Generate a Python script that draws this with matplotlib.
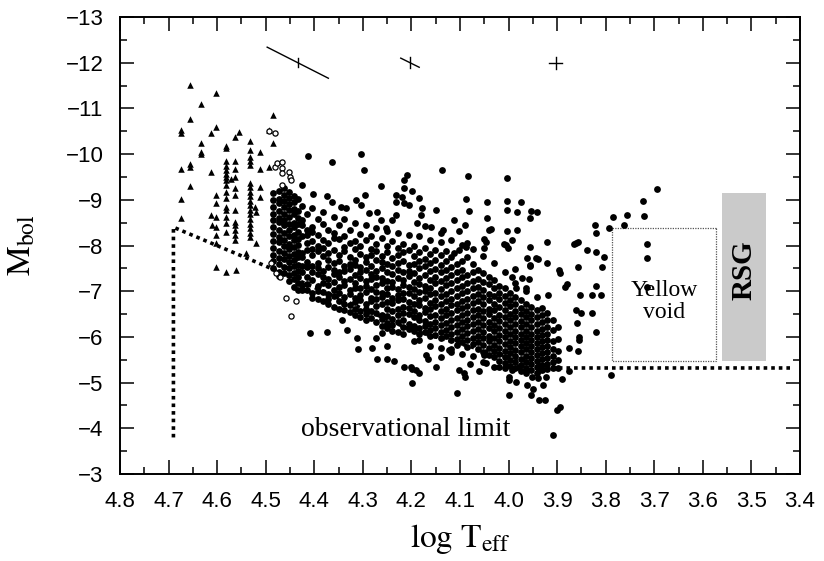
import numpy as np
import matplotlib
matplotlib.use("Agg")
from matplotlib import pyplot as plt
from matplotlib.patches import Rectangle
from matplotlib.ticker import MultipleLocator

plt.rcParams['font.family'] = 'Liberation Sans'
plt.rcParams['mathtext.fontset'] = 'stix'
plt.rcParams['hatch.color'] = '#9a9a9a'
plt.rcParams['hatch.linewidth'] = 1.0

# O stars (filled triangles)
tri = [(4.655, -11.51), (4.603, -11.34), (4.634, -11.10), (4.655, -10.77), (4.603, -10.60),
       (4.675, -10.53), (4.675, -10.46), (4.613, -10.46), (4.554, -10.48), (4.564, -10.37),
       (4.484, -10.86), (4.494, -10.53), (4.484, -10.24), (4.634, -10.24), (4.634, -10.05),
       (4.634, -10.00), (4.582, -10.18), (4.582, -10.13), (4.533, -10.29), (4.533, -10.09),
       (4.512, -10.05), (4.675, -9.67), (4.655, -9.78), (4.655, -9.72), (4.613, -9.61),
       (4.582, -9.85), (4.582, -9.74), (4.582, -9.65), (4.582, -9.56), (4.582, -9.50),
       (4.582, -9.43), (4.564, -9.85), (4.564, -9.67), (4.564, -9.50), (4.572, -9.45),
       (4.533, -9.94), (4.533, -9.85), (4.533, -9.76), (4.512, -9.67), (4.494, -9.72),
       (4.655, -9.30), (4.675, -9.02), (4.675, -8.60), (4.603, -9.10), (4.603, -8.93),
       (4.582, -9.32), (4.582, -9.17), (4.582, -9.04), (4.582, -8.84), (4.582, -8.78),
       (4.582, -8.62), (4.582, -8.49), (4.582, -8.29), (4.564, -9.26), (4.564, -9.10),
       (4.564, -8.78), (4.564, -8.51), (4.564, -8.45), (4.564, -8.34), (4.564, -8.23),
       (4.564, -8.12), (4.533, -9.37), (4.533, -9.28), (4.533, -9.18), (4.533, -9.08),
       (4.533, -8.98), (4.533, -8.88), (4.533, -8.78), (4.533, -8.68), (4.533, -8.58),
       (4.533, -8.48), (4.533, -8.38), (4.533, -8.28), (4.533, -8.18), (4.523, -8.84),
       (4.519, -8.73), (4.512, -9.28), (4.512, -9.06), (4.613, -8.67), (4.603, -8.62),
       (4.611, -8.45), (4.603, -8.40), (4.603, -8.23), (4.603, -8.05), (4.521, -8.05),
       (4.603, -7.53), (4.582, -7.42), (4.562, -7.46), (4.541, -7.84)]

# open circles
ring = [(4.494, -10.50), (4.481, -10.47), (4.481, -9.72), (4.476, -9.80), (4.467, -9.82),
        (4.467, -9.70), (4.467, -9.59), (4.453, -9.61), (4.450, -9.50), (4.448, -9.43),
        (4.467, -9.32), (4.459, -6.85), (4.438, -6.79), (4.448, -6.46), (4.490, -7.62),
        (4.478, -7.40), (4.470, -7.30)]

# dense B-star column near log T = 4.45
column_cols = [
    (4.484, [-9.15, -9.0, -8.85, -8.7, -8.55, -8.4, -8.25, -8.1, -7.95, -7.8, -7.65, -7.5]),
    (4.473, [-9.2, -9.02, -8.93, -8.76, -8.6, -8.52, -8.33, -8.18, -8.07, -7.88, -7.72, -7.6, -7.43, -7.34]),
    (4.463, [-9.25, -9.1, -8.98, -8.84, -8.7, -8.55, -8.44, -8.28, -8.12, -7.99, -7.83, -7.7, -7.52, -7.4]),
    (4.452, [-9.18, -9.05, -8.9, -8.77, -8.62, -8.48, -8.35, -8.2, -8.04, -7.93, -7.77, -7.63, -7.5, -7.35, -7.22]),
    (4.442, [-9.08, -8.96, -8.8, -8.69, -8.5, -8.41, -8.24, -8.12, -7.97, -7.82, -7.68, -7.56, -7.4, -7.27, -7.1]),
    (4.434, [-9.02, -8.75, -8.6, -8.46, -8.3, -8.15, -8.02, -7.86, -7.75, -7.58, -7.45, -7.31, -7.18, -7.02]),
]

# main band, read column by column
band_cols = [
    (4.426, [-8.86, -8.56, -8.44, -8.20, -7.84, -7.74, -7.55, -7.41, -7.14, -7.03]),
    (4.415, [-8.70, -8.34, -8.24, -8.05, -7.91, -7.64, -7.53, -7.32, -7.16, -7.03]),
    (4.404, [-8.82, -8.41, -8.30, -8.09, -7.93, -7.80, -7.55, -7.43, -7.25, -6.95, -6.86]),
    (4.393, [-8.58, -8.22, -7.99, -7.87, -7.62, -7.51, -7.37, -7.12, -7.00, -6.82]),
    (4.382, [-8.74, -8.47, -8.13, -7.95, -7.77, -7.45, -7.31, -7.19, -6.98, -6.78]),
    (4.371, [-8.35, -8.05, -7.83, -7.69, -7.54, -7.26, -7.14, -6.93, -6.84, -6.71]),
    (4.360, [-8.62, -8.28, -8.16, -7.90, -7.62, -7.47, -7.38, -7.20, -7.02, -6.90, -6.66]),
    (4.349, [-8.44, -8.14, -7.79, -7.66, -7.41, -7.30, -7.09, -6.96, -6.78, -6.62]),
    (4.338, [-8.57, -8.20, -7.97, -7.87, -7.56, -7.44, -7.22, -7.13, -6.87, -6.73, -6.58]),
    (4.327, [-8.33, -8.06, -7.75, -7.60, -7.49, -7.27, -7.03, -6.94, -6.69, -6.55]),
    (4.316, [-8.49, -8.10, -7.92, -7.69, -7.58, -7.36, -7.18, -7.07, -6.85, -6.76, -6.61, -6.47]),
    (4.305, [-8.26, -7.98, -7.82, -7.54, -7.41, -7.29, -7.06, -6.91, -6.80, -6.57, -6.44]),
    (4.294, [-8.45, -8.11, -7.74, -7.63, -7.46, -7.22, -7.11, -6.98, -6.73, -6.62, -6.50, -6.36]),
    (4.283, [-8.21, -7.93, -7.80, -7.55, -7.37, -7.26, -7.04, -6.86, -6.78, -6.57, -6.41]),
    (4.272, [-8.39, -8.04, -7.87, -7.69, -7.44, -7.32, -7.13, -6.99, -6.82, -6.67, -6.52, -6.33]),
    (4.261, [-8.17, -7.78, -7.64, -7.50, -7.28, -7.17, -6.95, -6.88, -6.71, -6.49, -6.39, -6.24]),
    (4.250, [-8.31, -8.00, -7.86, -7.59, -7.42, -7.23, -7.08, -6.93, -6.76, -6.62, -6.45, -6.30, -6.19]),
    (4.239, [-8.10, -7.72, -7.55, -7.38, -7.20, -7.10, -6.86, -6.74, -6.56, -6.40, -6.27, -6.14]),
    (4.228, [-8.27, -7.95, -7.80, -7.61, -7.46, -7.29, -7.04, -6.91, -6.80, -6.60, -6.47, -6.33, -6.11]),
    (4.217, [-8.04, -7.85, -7.66, -7.41, -7.25, -7.14, -6.97, -6.83, -6.66, -6.52, -6.36, -6.21, -6.07]),
    (4.206, [-8.22, -7.90, -7.57, -7.45, -7.33, -7.09, -6.95, -6.76, -6.64, -6.50, -6.29, -6.18]),
    (4.195, [-8.00, -7.77, -7.60, -7.39, -7.21, -7.04, -6.90, -6.71, -6.57, -6.43, -6.24, -6.12, -5.90]),
    (4.184, [-8.20, -7.86, -7.66, -7.50, -7.28, -7.15, -6.98, -6.81, -6.69, -6.48, -6.37, -6.19, -6.06, -5.94]),
    (4.173, [-7.95, -7.71, -7.56, -7.35, -7.12, -7.00, -6.85, -6.63, -6.54, -6.35, -6.23, -6.10]),
    (4.162, [-8.13, -7.82, -7.62, -7.44, -7.24, -7.08, -6.94, -6.75, -6.60, -6.46, -6.29, -6.15, -6.01, -5.80]),
    (4.151, [-7.91, -7.69, -7.48, -7.32, -7.17, -6.97, -6.80, -6.67, -6.49, -6.33, -6.20, -6.04]),
    (4.140, [-8.07, -7.79, -7.57, -7.41, -7.22, -7.04, -6.89, -6.72, -6.57, -6.42, -6.26, -6.10, -5.97, -5.75]),
    (4.129, [-7.87, -7.65, -7.46, -7.29, -7.13, -6.93, -6.78, -6.61, -6.47, -6.30, -6.16, -6.01]),
    (4.118, [-8.12, -7.74, -7.53, -7.36, -7.18, -7.01, -6.84, -6.70, -6.53, -6.37, -6.22, -6.07, -5.93, -5.68]),
    (4.107, [-7.60, -7.42, -7.24, -7.07, -6.89, -6.73, -6.58, -6.42, -6.27, -6.11, -5.96, -5.82]),
    (4.096, [-8.02, -7.67, -7.47, -7.30, -7.11, -6.95, -6.79, -6.64, -6.48, -6.33, -6.18, -6.02, -5.88, -5.62]),
    (4.085, [-7.75, -7.36, -7.17, -7.00, -6.84, -6.68, -6.52, -6.38, -6.23, -6.08, -5.93, -5.78]),
    (4.074, [-7.92, -7.60, -7.41, -7.22, -7.06, -6.90, -6.74, -6.58, -6.43, -6.28, -6.13, -5.98, -5.84, -5.58]),
    (4.063, [-7.46, -7.27, -7.10, -6.94, -6.78, -6.62, -6.47, -6.32, -6.17, -6.03, -5.88, -5.74]),
    (4.052, [-7.78, -7.39, -7.21, -7.03, -6.87, -6.71, -6.56, -6.41, -6.26, -6.11, -5.97, -5.82, -5.67, -5.45]),
    (4.041, [-7.31, -7.15, -6.94, -6.80, -6.62, -6.50, -6.33, -6.20, -6.03, -5.90, -5.76, -5.61]),
    (4.030, [-7.62, -7.25, -7.06, -6.90, -6.72, -6.58, -6.41, -6.27, -6.12, -5.97, -5.83, -5.69, -5.55, -5.35]),
    (4.019, [-7.12, -6.97, -6.82, -6.65, -6.49, -6.35, -6.19, -6.05, -5.90, -5.76, -5.62, -5.48]),
    (4.008, [-7.42, -7.08, -6.90, -6.74, -6.58, -6.44, -6.28, -6.14, -5.99, -5.85, -5.70, -5.56, -5.43, -5.33]),
    (3.997, [-6.96, -6.80, -6.67, -6.50, -6.36, -6.21, -6.07, -5.92, -5.78, -5.64, -5.50, -5.37]),
    (3.986, [-7.19, -6.87, -6.72, -6.57, -6.43, -6.29, -6.14, -6.00, -5.86, -5.72, -5.58, -5.45, -5.31]),
    (3.975, [-6.80, -6.64, -6.50, -6.35, -6.21, -6.07, -5.93, -5.79, -5.66, -5.52, -5.38, -5.26]),
    (3.964, [-7.00, -6.73, -6.57, -6.43, -6.28, -6.14, -6.00, -5.86, -5.73, -5.59, -5.46, -5.33, -5.22]),
    (3.953, [-6.66, -6.50, -6.36, -6.21, -6.07, -5.94, -5.80, -5.66, -5.53, -5.40, -5.27]),
    (3.942, [-6.88, -6.58, -6.43, -6.28, -6.14, -6.00, -5.86, -5.73, -5.60, -5.47, -5.34, -5.22]),
    (3.931, [-6.63, -6.47, -6.32, -6.18, -6.04, -5.90, -5.77, -5.64, -5.51, -5.38, -5.27]),
    (3.920, [-6.52, -6.36, -6.21, -6.07, -5.93, -5.80, -5.67, -5.54, -5.41, -5.30]),
    (3.909, [-6.38, -6.15, -5.92, -5.74, -5.58, -5.44, -5.31]),
    (3.898, [-6.22, -5.96, -5.70, -5.49, -5.33]),
]

# scattered stars above the band and toward the yellow region
upper = [(4.413, -9.96), (4.364, -9.83), (4.304, -10.0), (4.298, -9.65), (4.263, -9.30),
         (4.209, -9.54), (4.216, -9.43), (4.137, -9.65), (4.083, -9.52), (4.003, -9.48),
         (4.088, -9.02), (4.044, -8.95), (4.003, -8.97), (3.974, -8.95), (4.081, -8.75),
         (4.044, -8.60), (4.003, -8.78), (3.983, -8.73), (3.956, -8.60), (3.954, -8.75),
         (3.941, -8.73), (4.150, -8.78), (4.112, -8.56), (4.102, -8.32), (4.040, -8.34),
         (4.003, -8.32), (3.983, -8.34), (4.050, -8.14), (4.005, -8.01), (3.993, -8.12),
         (3.956, -7.97), (3.921, -8.08), (3.943, -7.73), (3.956, -7.57), (3.921, -7.62),
         (3.896, -7.46), (3.861, -8.05), (3.838, -7.90), (3.820, -7.85), (3.803, -7.75),
         (3.807, -7.53), (3.822, -8.45), (3.820, -8.27), (3.793, -8.38), (3.785, -8.62),
         (3.756, -8.67), (3.762, -8.45), (3.723, -8.97), (3.721, -8.64), (3.694, -9.24),
         (3.716, -8.03), (3.716, -7.73), (3.716, -7.09), (3.857, -7.53), (3.894, -7.40),
         (3.857, -8.08), (3.865, -8.03), (3.939, -7.70), (3.962, -7.73), (3.956, -7.55),
         (3.986, -7.49), (4.426, -9.32), (4.403, -9.13), (4.374, -9.08), (4.364, -8.95),
         (4.345, -8.84), (4.335, -8.82), (4.314, -9.00), (4.304, -8.89), (4.296, -9.10),
         (4.232, -9.10), (4.232, -8.95), (4.288, -8.71), (4.271, -8.73), (4.263, -8.56),
         (4.253, -8.38), (4.216, -9.26), (4.199, -9.19), (4.219, -9.06), (4.216, -8.93),
         (4.205, -8.89), (4.185, -9.04), (4.178, -8.82), (4.180, -8.67), (4.232, -8.67),
         (4.240, -8.56), (4.189, -8.49), (4.172, -8.43), (4.160, -8.40), (4.090, -8.45),
         (4.135, -8.34), (4.139, -8.27), (4.036, -8.36), (4.046, -8.08), (4.009, -8.03),
         (4.001, -7.95), (4.050, -7.95), (4.085, -8.05), (4.088, -7.97), (4.102, -7.90),
         (4.112, -7.84), (3.993, -7.31), (3.972, -7.29), (3.958, -7.27), (3.985, -7.07),
         (3.964, -7.07), (3.883, -7.09), (3.879, -7.16), (3.820, -7.11), (3.918, -6.92),
         (3.853, -6.92), (3.828, -6.92), (3.809, -6.92), (3.861, -6.59), (3.850, -6.52),
         (3.828, -6.52), (3.859, -6.30), (3.820, -6.11), (3.855, -6.00), (3.855, -5.93),
         (3.875, -5.76), (3.857, -5.69)]

# faint stars below the band
lower = [(4.409, -6.09), (4.374, -6.11), (4.343, -6.37), (4.333, -6.15), (4.312, -5.97),
         (4.310, -5.73), (4.281, -5.76), (4.273, -5.98), (4.271, -5.52), (4.250, -5.52),
         (4.236, -5.47), (4.250, -5.80), (4.200, -5.34), (4.199, -4.99), (4.199, -5.30),
         (4.260, -6.08), (4.216, -5.34), (4.191, -5.28), (4.185, -5.21), (4.106, -4.77),
         (4.102, -5.28), (4.092, -5.21), (4.090, -5.12), (3.999, -4.73), (3.999, -5.06),
         (4.123, -5.71), (4.118, -5.73), (4.170, -5.60), (4.165, -5.52), (3.962, -4.95),
         (3.954, -4.73), (3.937, -4.62), (3.925, -4.62), (3.900, -4.40), (3.895, -4.47),
         (3.908, -3.85), (3.890, -5.08), (3.876, -5.25), (3.789, -5.17), (4.050, -5.60),
         (4.046, -5.43), (4.020, -5.34), (3.993, -5.28), (3.978, -5.34), (3.964, -5.28),
         (3.999, -5.12), (3.985, -5.01), (3.952, -5.12), (3.937, -5.28), (3.923, -5.12),
         (4.060, -5.25), (4.140, -5.55), (4.150, -5.35), (4.080, -5.40), (3.940, -5.10),
         (3.930, -4.95), (3.950, -4.85)]

# error bars (centre, half extent in x and y of the arm, half length of the cross tick)
err_x = [4.434, 4.203, 3.903]
err_y = [-12.0, -12.0, -12.0]
err_dx = [0.063, 0.019, 0.014]
err_dy = [0.34, 0.10, 0.0]
err_tick = [0.10, 0.12, 0.13]

# observational limit
limit_x = [4.69, 4.69, 4.50, 4.35, 4.20, 4.05, 3.90, 3.42]
limit_y = [-3.8, -8.4, -7.55, -6.85, -6.15, -5.70, -5.32, -5.32]

# yellow void and RSG boxes (log T range, Mbol range)
void_box = (3.787, 3.572, -8.38, -5.47)
rsg_box = (3.560, 3.469, -9.15, -5.47)

fig = plt.figure(figsize=(8.24, 5.61), dpi=100)
ax = fig.add_axes([120 / 824, 87 / 561, 680 / 824, 457 / 561])

ax.plot(limit_x, limit_y, color='black', lw=2.6, linestyle=(0, (1, 1.1)),
        dash_capstyle='butt', zorder=1)

pts = list(upper) + list(lower)
for x, ys in column_cols + band_cols:
    pts += [(x, y) for y in ys]
dots = np.array(pts)
ax.scatter(dots[:, 0], dots[:, 1], s=24, c='black', marker='o', linewidths=0, zorder=3)

tri = np.array(tri)
ax.scatter(tri[:, 0], tri[:, 1], s=22, c='black', marker='^', linewidths=0, zorder=3)
ring = np.array(ring)
ax.scatter(ring[:, 0], ring[:, 1], s=14, facecolors='white', edgecolors='black',
           marker='o', linewidths=0.9, zorder=4)

for x, y, dx, dy, t in zip(err_x, err_y, err_dx, err_dy, err_tick):
    ax.plot([x + dx, x - dx], [y - dy, y + dy], color='black', lw=1.0)
    ax.plot([x, x], [y - t, y + t], color='black', lw=1.0)

x0, x1, y0, y1 = void_box
ax.add_patch(Rectangle((x1, y0), x0 - x1, y1 - y0, fill=False, edgecolor='#555555',
                       lw=0.9, linestyle=(0, (1, 1)), zorder=2))
ax.text((x0 + x1) / 2, (y0 + y1) / 2 + 0.15, 'Yellow\nvoid', ha='center', va='center',
        family='Liberation Serif', fontsize=17, linespacing=1.05)

x0, x1, y0, y1 = rsg_box
ax.add_patch(Rectangle((x1, y0), x0 - x1, y1 - y0, facecolor='#cacaca', edgecolor='none',
                       hatch='....', zorder=2))
ax.text((x0 + x1) / 2, -7.45, 'RSG', ha='center', va='center', rotation=90,
        family='Liberation Serif', fontweight='bold', fontsize=21, zorder=3)

ax.text(4.212, -3.83, 'observational limit', ha='center', va='baseline',
        family='Liberation Serif', fontsize=20)

ax.set_xlim(4.8, 3.4)
ax.set_ylim(-3, -13)
ax.xaxis.set_major_locator(MultipleLocator(0.1))
ax.xaxis.set_minor_locator(MultipleLocator(0.05))
ax.yaxis.set_major_locator(MultipleLocator(1))
ax.yaxis.set_minor_locator(MultipleLocator(0.5))
xt = np.arange(3.4, 4.81, 0.1)
ax.set_xticks(xt)
ax.set_xticklabels(['%.1f' % v for v in xt])
ax.tick_params(which='both', direction='in', top=True, right=True, width=1.1)
ax.tick_params(which='major', length=10, labelsize=16, pad=12)
ax.tick_params(which='minor', length=5)
for sp in ax.spines.values():
    sp.set_linewidth(1.4)

ax.set_xlabel(r'$\mathrm{log\ T_{eff}}$', fontsize=24)
ax.set_ylabel(r'$\mathrm{M_{bol}}$', fontsize=24)
ax.xaxis.set_label_coords(0.5, -0.105)
ax.yaxis.set_label_coords(-0.122, 0.5)

fig.savefig('out.png', dpi=100)
